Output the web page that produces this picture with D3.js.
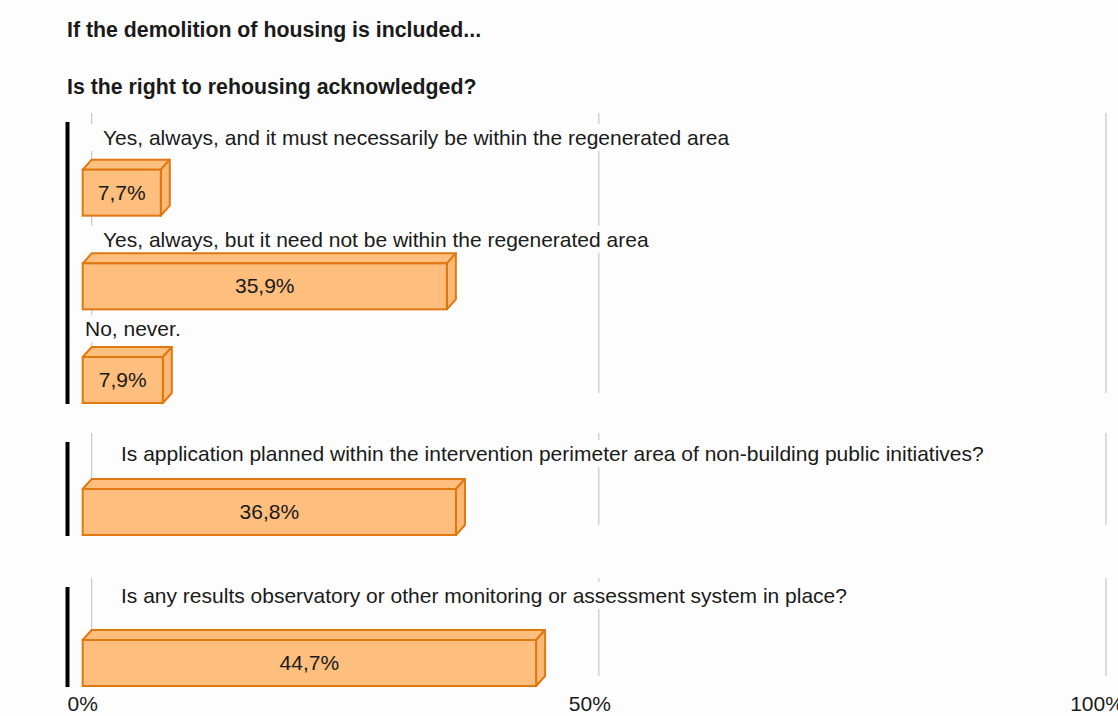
<!DOCTYPE html>
<html>
<head>
<meta charset="utf-8">
<script src="https://cdn.jsdelivr.net/npm/d3@7"></script>
<style>
  html, body { margin: 0; padding: 0; background: #fdfdfd; }
  svg { display: block; }
  text { font-family: Arial, "Liberation Sans", sans-serif; }
</style>
</head>
<body>
<svg id="chart" width="1118" height="716"></svg>
<script>
// ---------- DATA ----------
const titles = [
  "If the demolition of housing is included...",
  "Is the right to rehousing acknowledged?"
];
const categories = [
  "Yes, always, and it must necessarily be within the regenerated area",
  "Yes, always, but it need not be within the regenerated area",
  "No, never.",
  "Is application planned within the intervention perimeter area of non-building public initiatives?",
  "Is any results observatory or other monitoring or assessment system in place?"
];
const values = [7.7, 35.9, 7.9, 36.8, 44.7];
const panelOf = [0, 0, 0, 1, 2];
const tickValues = [0, 50, 100];
const tickLabels = ["0%", "50%", "100%"];

// ---------- LAYOUT ----------
const W = 1118, H = 716;
const dx = 9, dy = 10;              // 3D depth
const barH = 46;
const panels = [
  { top: 113, bottom: 393 },        // back-plane extent
  { top: 433, bottom: 525 },
  { top: 578, bottom: 676 }
];
const labelX  = [103, 103, 85, 121, 121];
const labelDy = [23, 31, 27, 19, 16];

const fillC = "#fdbe7e", strokeC = "#e07810", textC = "#1a1a1a";

const svg = d3.select("#chart");
svg.append("rect").attr("width", W).attr("height", H).attr("fill", "#fdfdfd");

const x = d3.scaleLinear().domain([0, 100]).range([82.7, 1097]);

// per-panel row band scales (front plane)
const bands = panels.map((p, pi) => {
  const rows = d3.range(categories.length).filter(i => panelOf[i] === pi);
  return d3.scaleBand().domain(rows).range([p.top + dy - 1, p.bottom + dy]).paddingInner(0);
});

// titles
svg.selectAll("text.title").data(titles).join("text")
  .attr("class", "title")
  .attr("x", 67)
  .attr("y", (d, i) => [37, 94][i])
  .attr("font-size", 21.3)
  .attr("font-weight", "bold")
  .attr("fill", textC)
  .text(d => d);

// gridlines (back plane)
panels.forEach(p => {
  svg.append("g").selectAll("line").data(tickValues).join("line")
    .attr("x1", d => x(d) + dx).attr("x2", d => x(d) + dx)
    .attr("y1", p.top).attr("y2", p.bottom)
    .attr("stroke", "#bdbdbd").attr("stroke-width", 1);
});

// category labels with white backing boxes
const rowIdx = d3.range(categories.length);
const lblG = svg.append("g");
rowIdx.forEach(i => {
  const b = bands[panelOf[i]];
  const g = lblG.append("g");
  const t = g.append("text")
    .attr("x", labelX[i])
    .attr("y", b(i) + labelDy[i])
    .attr("font-size", 21)
    .attr("fill", textC)
    .text(categories[i]);
  const bb = t.node().getBBox();
  g.insert("rect", "text")
    .attr("x", bb.x - 14).attr("y", bb.y - 2)
    .attr("width", bb.width + 18).attr("height", bb.height + 4)
    .attr("fill", "#fdfdfd");
});

// 3D bars
const barG = svg.append("g");
rowIdx.forEach(i => {
  const b = bands[panelOf[i]];
  const y1 = b(i) + b.bandwidth();
  const y0 = y1 - barH;
  const x0 = x(0), x1 = x(values[i]);
  const g = barG.append("g");
  // top face
  g.append("path")
    .attr("d", `M${x0},${y0}L${x0 + dx},${y0 - dy}L${x1 + dx},${y0 - dy}L${x1},${y0}Z`)
    .attr("fill", fillC).attr("stroke", strokeC).attr("stroke-width", 2).attr("stroke-linejoin", "round");
  // side face
  g.append("path")
    .attr("d", `M${x1},${y0}L${x1 + dx},${y0 - dy}L${x1 + dx},${y1 - dy}L${x1},${y1}Z`)
    .attr("fill", "#fbb877").attr("stroke", strokeC).attr("stroke-width", 2).attr("stroke-linejoin", "round");
  // front face
  g.append("rect")
    .attr("x", x0).attr("y", y0).attr("width", x1 - x0).attr("height", barH)
    .attr("fill", fillC).attr("stroke", strokeC).attr("stroke-width", 2);
  // value label
  g.append("text")
    .attr("x", (x0 + x1) / 2)
    .attr("y", (y0 + y1) / 2 + 7)
    .attr("text-anchor", "middle")
    .attr("font-size", 21)
    .attr("fill", textC)
    .text(d3.format(".1f")(values[i]).replace(".", ",") + "%");
});

// black left axis bars
panels.forEach(p => {
  svg.append("rect")
    .attr("x", 65.5).attr("y", p.top + dy - 1)
    .attr("width", 4).attr("height", p.bottom - p.top + 2)
    .attr("fill", "#000");
});

// x tick labels
svg.append("g").selectAll("text").data(tickValues).join("text")
  .attr("x", d => x(d))
  .attr("y", 711)
  .attr("text-anchor", "middle")
  .attr("font-size", 21)
  .attr("fill", textC)
  .text((d, i) => tickLabels[i]);
</script>
</body>
</html>
